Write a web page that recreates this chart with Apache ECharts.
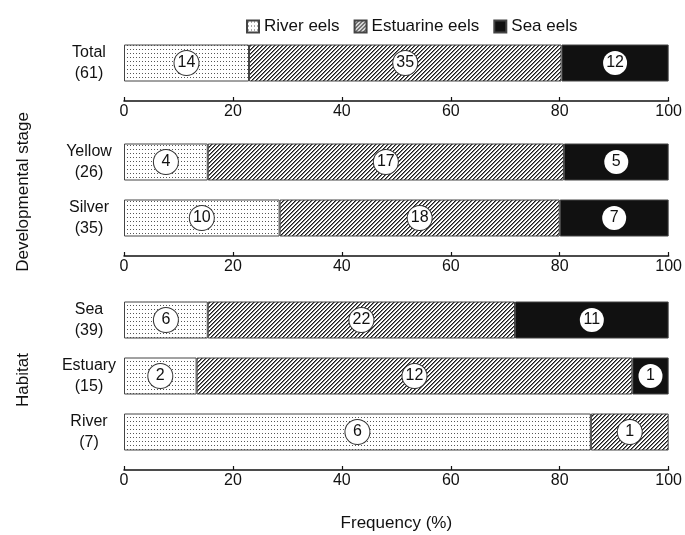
<!DOCTYPE html>
<html>
<head>
<meta charset="utf-8">
<script src="https://cdn.jsdelivr.net/npm/echarts@6/dist/echarts.min.js"></script>
<style>
html,body{margin:0;padding:0;background:#fff;}
#chart{width:685px;height:535px;}
</style>
</head>
<body>
<div id="chart"></div>
<script>
// ---- data ----
const seriesNames = ['River eels', 'Estuarine eels', 'Sea eels'];
const panel1Categories = ['Total\n(61)'];
const panel2Categories = ['Yellow\n(26)', 'Silver\n(35)'];
const panel3Categories = ['Sea\n(39)', 'Estuary\n(15)', 'River\n(7)'];
// counts per group (river, estuarine, sea)
const panel1River = [14];
const panel1Estuarine = [35];
const panel1Sea = [12];
const panel2River = [4, 10];
const panel2Estuarine = [17, 18];
const panel2Sea = [5, 7];
const panel3River = [6, 2, 6];
const panel3Estuarine = [22, 12, 1];
const panel3Sea = [11, 1, 0];
const xTicks = [0, 20, 40, 60, 80, 100];

// ---- patterns ----
function dotPattern() {
  const c = document.createElement('canvas');
  c.width = 3; c.height = 4;
  const g = c.getContext('2d');
  g.fillStyle = '#ffffff'; g.fillRect(0, 0, 3, 4);
  g.fillStyle = '#555555'; g.fillRect(1, 1, 1, 1);
  return c;
}
function hatchPattern() {
  const c = document.createElement('canvas');
  c.width = 4; c.height = 4;
  const g = c.getContext('2d');
  g.fillStyle = '#ffffff'; g.fillRect(0, 0, 4, 4);
  g.fillStyle = '#1a1a1a';
  for (let y = 0; y < 4; y++) {
    const x = 3 - y;
    g.fillRect(x, y, 1, 1);
  }
  g.fillStyle = '#7a7a7a';
  for (let y = 0; y < 4; y++) {
    const x = (4 - y) % 4;
    g.fillRect(x, y, 1, 1);
  }
  return c;
}
const colors = [
  { image: dotPattern(), repeat: 'repeat' },
  { image: hatchPattern(), repeat: 'repeat' },
  '#111111'
];
const FONT = '"Liberation Sans", Arial, Helvetica, sans-serif';

const panels = [
  { cats: panel1Categories, data: [panel1River, panel1Estuarine, panel1Sea], top: 35 },
  { cats: panel2Categories, data: [panel2River, panel2Estuarine, panel2Sea], top: 134 },
  { cats: panel3Categories, data: [panel3River, panel3Estuarine, panel3Sea], top: 292 }
];
const BAND = 56;

const grids = [], xAxes = [], yAxes = [], series = [];
panels.forEach((p, pi) => {
  grids.push({ left: 124, right: 15, top: p.top, height: BAND * p.cats.length });
  const last = pi === panels.length - 1;
  xAxes.push({
    gridIndex: pi, type: 'value', min: 0, max: 100, interval: 20, offset: 10,
    axisLine: { show: true, lineStyle: { color: '#111', width: 1.5 } },
    axisTick: { show: true, inside: true, length: 4, lineStyle: { color: '#111', width: 1.2 } },
    splitLine: { show: false },
    axisLabel: { fontSize: 16, color: '#111', fontFamily: FONT, margin: 3,
      formatter: v => xTicks.indexOf(v) >= 0 ? String(v) : '' },
    name: last ? 'Frequency (%)' : '',
    nameLocation: 'middle', nameGap: 45,
    nameTextStyle: { fontSize: 17, color: '#111', fontFamily: FONT }
  });
  yAxes.push({
    gridIndex: pi, type: 'category', data: p.cats, inverse: true,
    axisLine: { show: false }, axisTick: { show: false },
    axisLabel: { align: 'center', margin: 35, fontSize: 16, lineHeight: 21, color: '#111', fontFamily: FONT }
  });
  const totals = p.cats.map((_, i) => p.data[0][i] + p.data[1][i] + p.data[2][i]);
  p.data.forEach((arr, si) => {
    series.push({
      name: seriesNames[si], type: 'bar', stack: 'p' + pi,
      xAxisIndex: pi, yAxisIndex: pi, barWidth: 37,
      itemStyle: { color: colors[si], borderColor: '#444', borderWidth: 1 },
      label: {
        show: true, position: 'inside',
        formatter: params => String(arr[params.dataIndex]),
        width: 24, height: 24, lineHeight: 24, align: 'center', verticalAlign: 'middle',
        borderRadius: 12, backgroundColor: '#fff',
        borderColor: si === 2 ? '#fff' : '#333', borderWidth: si === 2 ? 0 : 1,
        fontSize: 16, color: '#111', fontFamily: FONT
      },
      emphasis: { disabled: true },
      data: arr.map((n, i) => n === 0
        ? { value: 0, label: { show: false }, itemStyle: { borderWidth: 0 } }
        : { value: n / totals[i] * 100 })
    });
  });
});

const chart = echarts.init(document.getElementById('chart'), null, { renderer: 'canvas' });
chart.setOption({
  backgroundColor: '#fff',
  animation: false,
  legend: {
    data: seriesNames, left: 241, top: 13, itemWidth: 12, itemHeight: 12, itemGap: 14,
    icon: 'rect',
    textStyle: { fontSize: 17, color: '#111', fontFamily: FONT, padding: [0, 0, 0, 0] }
  },
  grid: grids, xAxis: xAxes, yAxis: yAxes, series: series,
  graphic: [
    { type: 'text', x: 23, y: 192, rotation: Math.PI / 2,
      style: { text: 'Developmental stage', fontSize: 17, fill: '#111', fontFamily: FONT, align: 'center', verticalAlign: 'middle' } },
    { type: 'text', x: 23, y: 380, rotation: Math.PI / 2,
      style: { text: 'Habitat', fontSize: 17, fill: '#111', fontFamily: FONT, align: 'center', verticalAlign: 'middle' } }
  ]
});
</script>
</body>
</html>
